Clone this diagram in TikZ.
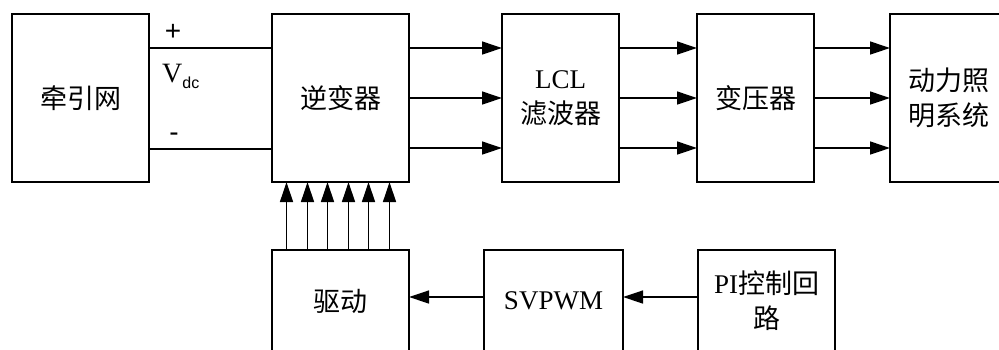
\documentclass[tikz,border=0pt]{standalone}
\usepackage{fontspec}
\setmainfont{Liberation Serif}
\setsansfont{Liberation Sans}
\newfontfamily\cjk{Noto Sans CJK SC}
\usetikzlibrary{arrows.meta,positioning}
\tikzset{
  >={Triangle[length=20pt,width=13pt]},
  flow/.style={->,line width=1.3pt},
  wire/.style={line width=1.3pt},
  box/.style={draw,line width=1.6pt,align=center,inner sep=0pt,outer sep=0pt,
    minimum width=137pt,minimum height=168pt,font=\fontsize{27}{35}\selectfont\cjk},
  narrowbox/.style={box,minimum width=117pt},
  lowbox/.style={box,minimum height=102pt},
  sign/.style={inner sep=0pt,anchor=base,font=\fontsize{28}{28}\selectfont\sffamily}
}
\begin{document}
\begin{tikzpicture}[x=1pt,y=-1pt]
  \useasboundingbox (0,0) rectangle (999,349);
  \clip (0,0) rectangle (999,349);
  \node[box,anchor=north west] (grid) at (12,14) {牵引网};
  \node[box,right=123pt of grid] (inv) {逆变器};
  \node[narrowbox,right=93pt of inv] (lcl) {{\rmfamily LCL}\\滤波器};
  \node[narrowbox,right=78pt of lcl] (trafo) {变压器};
  \node[narrowbox,right=76pt of trafo] (load) {动力照\\明系统};
  \node[lowbox,below=68pt of inv] (drive) {驱动};
  \node[lowbox,minimum width=139pt,right=75pt of drive] (svpwm) {\rmfamily SVPWM};
  \node[lowbox,right=75pt of svpwm] (pi) {{\rmfamily PI}控制回\\路};
  % dc link
  \draw[wire] ([yshift=50pt]grid.east) -- ([yshift=50pt]inv.west);
  \draw[wire] ([yshift=-51pt]grid.east) -- ([yshift=-51pt]inv.west);
  \node[sign] (plus) at (173,40) {+};
  \node[sign] (minus) at (174,141) {-};
  \node[inner sep=0pt,anchor=base west,font=\fontsize{28}{28}\selectfont] (vdc) at (162,82)
    {V\raisebox{-6pt}{\fontsize{16}{16}\selectfont\sffamily dc}};
  % three phase
  \foreach \dy in {50,0,-50} {
    \draw[flow] ([yshift=\dy pt]inv.east) -- ([yshift=\dy pt]lcl.west);
    \draw[flow] ([yshift=\dy pt]lcl.east) -- ([yshift=\dy pt]trafo.west);
    \draw[flow] ([yshift=\dy pt]trafo.east) -- ([yshift=\dy pt]load.west);
  }
  % gate signals
  \foreach \dx in {-54,-33,-13,8,28,49}
    \draw[flow] ([xshift=\dx pt]drive.north) -- ([xshift=\dx pt]inv.south);
  \draw[flow] ([yshift=4pt]pi.west) -- ([yshift=4pt]svpwm.east); \draw[flow] ([yshift=4pt]svpwm.west) -- ([yshift=4pt]drive.east);
\end{tikzpicture}
\end{document}
